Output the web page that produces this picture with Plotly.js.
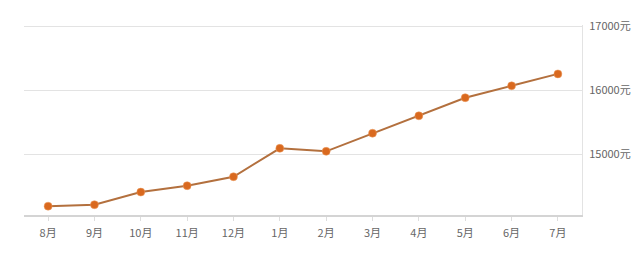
<!DOCTYPE html>
<html>
<head>
<meta charset="utf-8">
<script src="https://cdn.plot.ly/plotly-3.0.1.min.js"></script>
<style>html,body{margin:0;padding:0;background:#fff;}#chart{width:640px;height:256px;}</style>
</head>
<body>
<div id="chart"></div>
<script>
const months = ['8月','9月','10月','11月','12月','1月','2月','3月','4月','5月','6月','7月'];
const prices = [14185, 14208, 14405, 14505, 14645, 15089, 15042, 15325, 15597, 15880, 16066, 16252];
const yTicks = [15000, 16000, 17000];
const yTickLabels = ['15000元', '16000元', '17000元'];

const trace = {
  x: months,
  y: prices,
  type: 'scatter',
  mode: 'lines+markers',
  line: {color: '#b3703e', width: 2},
  marker: {color: '#d9691f', size: 8, line: {color: 'rgba(240,160,100,0.5)', width: 1}},
  hoverinfo: 'none'
};

const layout = {
  width: 640, height: 256,
  margin: {l: 24, r: 58, t: 25, b: 41},
  paper_bgcolor: '#fff', plot_bgcolor: '#fff',
  showlegend: false,
  font: {family: '"Noto Sans CJK SC", "Noto Sans", sans-serif', size: 11, color: '#666'},
  xaxis: {
    type: 'category',
    range: [-0.52, 11.52],
    showgrid: false,
    showline: true, linecolor: '#d4d4d4', linewidth: 1.5,
    ticks: 'outside', ticklen: 4, tickcolor: '#ddd', tickwidth: 1,
    ticklabelstandoff: 3,
    tickfont: {size: 11, color: '#666'},
    fixedrange: true
  },
  yaxis: {
    side: 'right',
    range: [14047, 17016],
    tickvals: yTicks, ticktext: yTickLabels,
    showgrid: true, gridcolor: '#e3e3e3', gridwidth: 1,
    showline: true, linecolor: '#e3e3e3', linewidth: 1,
    zeroline: false,
    ticks: '', ticklabelstandoff: 4,
    tickfont: {size: 11, color: '#666'},
    fixedrange: true
  }
};

Plotly.newPlot('chart', [trace], layout, {displayModeBar: false, staticPlot: true});
</script>
</body>
</html>
